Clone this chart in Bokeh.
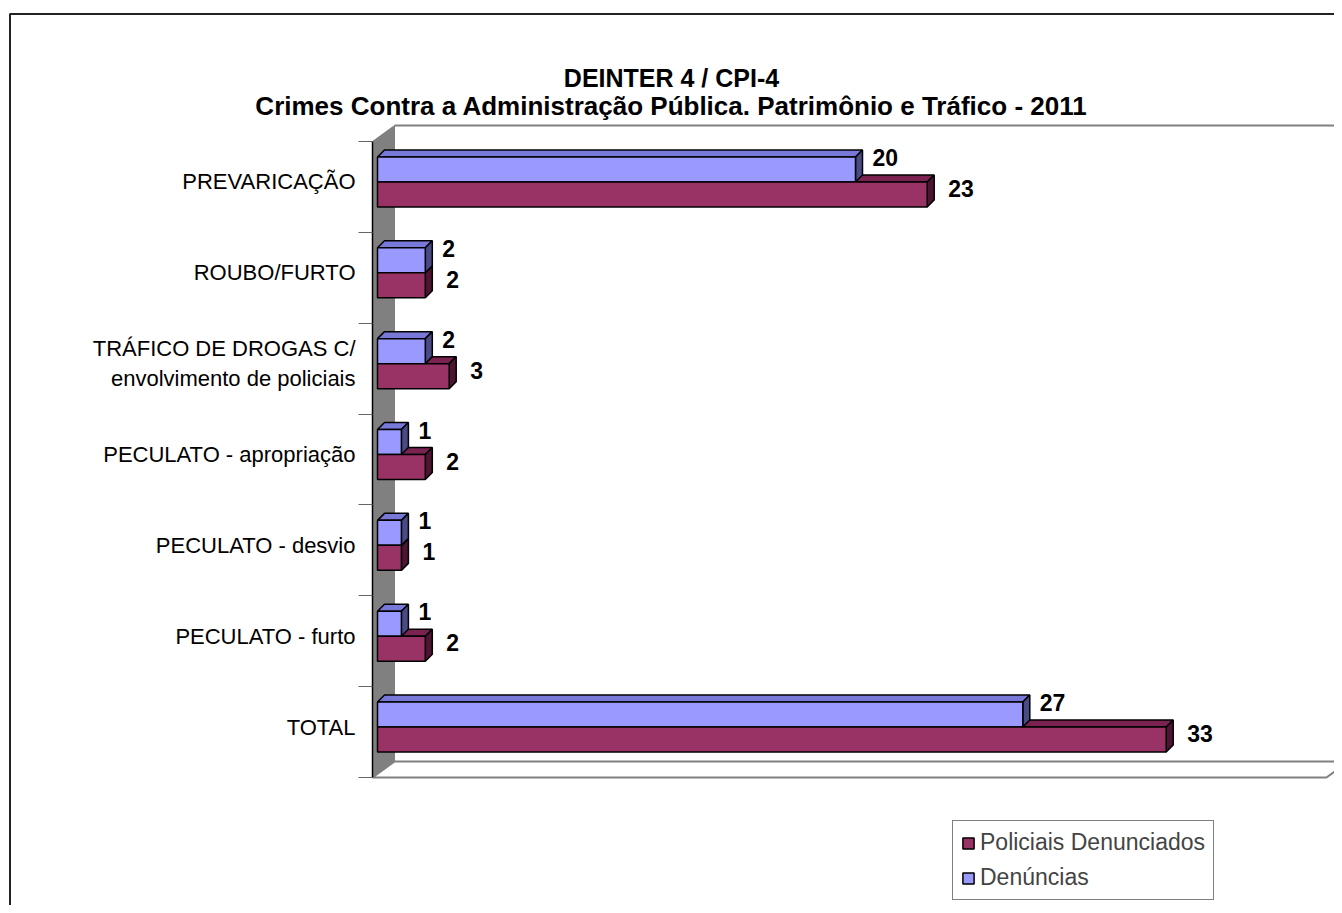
from bokeh.plotting import figure
from bokeh.models import (Range1d, LinearAxis, FixedTicker, Label, Legend,
                          LegendItem, ColumnDataSource)
from bokeh.embed import file_html
from bokeh.resources import INLINE
from bokeh.core.properties import value

# ---------------- data ----------------
categories = ["PREVARICAÇÃO", "ROUBO/FURTO",
              "TRÁFICO DE DROGAS C/\nenvolvimento de policiais",
              "PECULATO - apropriação", "PECULATO - desvio",
              "PECULATO - furto", "TOTAL"]
denuncias = [20, 2, 2, 1, 1, 1, 27]
policiais = [23, 2, 3, 2, 1, 2, 33]
series_names = ["Policiais Denunciados", "Denúncias"]
title_lines = ["DEINTER 4 / CPI-4",
               "Crimes Contra a Administração Pública. Patrimônio e Tráfico - 2011"]

# ---------------- layout (pixels, picture coordinates) ----------------
W, H = 1334, 905
ORIGIN = 0           # the canvas starts at the picture's top-left corner
X0_PX = 377.0        # x of value 0
SX = 23.9            # px per value unit
YB_PX = 777.0        # y of lowest category edge
SY = 636.0 / 7       # px per category band

def px2x(px):
    return (px - X0_PX) / SX

def py2y(py):
    return (YB_PX - py) / SY - 0.5

FONT = "Liberation Sans"
BLUE, BLUE_TOP, BLUE_SIDE = "#9999FF", "#7878D8", "#4A4A86"
RED, RED_TOP, RED_SIDE = "#993366", "#7A2350", "#4E1533"
GRAY = "#808080"

n = len(categories)
OFF = 5.0 / SY                      # 3D depth shift of bars / labels
ypos = [n - 1 - i + OFF for i in range(n)]

p = figure(width=W, height=H,
           x_range=Range1d(px2x(ORIGIN), px2x(ORIGIN + W)),
           y_range=Range1d(py2y(ORIGIN + H), py2y(ORIGIN)),
           x_axis_type=None, y_axis_type=None,
           output_backend="svg", toolbar_location=None,
           min_border=0, min_border_left=0, min_border_right=0,
           min_border_top=0, min_border_bottom=0,
           outline_line_color=None, background_fill_color="white",
           border_fill_color="white")

# outer chart border (left + top)
p.line([px2x(9.5), px2x(9.5), px2x(1342)], [py2y(913), py2y(13.5), py2y(13.5)],
       line_color="#222222", line_width=2)

# floor
p.patch([px2x(372), px2x(1326), px2x(1348), px2x(394)],
        [py2y(777), py2y(777), py2y(761), py2y(761)],
        fill_color="white", line_color=GRAY, line_width=2)
# left wall
p.patch([px2x(372), px2x(394), px2x(394), px2x(372)],
        [py2y(777), py2y(761), py2y(125), py2y(141)],
        fill_color=GRAY, line_color=GRAY, line_width=1)
# back wall top edge
p.line([px2x(394), px2x(1342)], [py2y(125), py2y(125)],
       line_color=GRAY, line_width=2)

# ---------------- 3D bars ----------------
h = 25.0 / SY
ddx = 7.0 / SX
ddy = 7.0 / SY

def faces(vals, lower):
    top_xs, top_ys, side_xs, side_ys, fl, fr, fb, ft = [], [], [], [], [], [], [], []
    for v, y in zip(vals, ypos):
        b = y - h if lower else y
        t = b + h
        top_xs.append([0, v, v + ddx, ddx])
        top_ys.append([t, t, t + ddy, t + ddy])
        side_xs.append([v, v, v + ddx, v + ddx])
        side_ys.append([b, t, t + ddy, b + ddy])
        fl.append(0); fr.append(v); fb.append(b); ft.append(t)
    return top_xs, top_ys, side_xs, side_ys, fl, fr, fb, ft

rtx, rty, rsx, rsy, rl, rr, rb, rt = faces(policiais, True)
btx, bty, bsx, bsy, bl, br, bb, bt = faces(denuncias, False)
LW = 1.5
p.patches(rtx, rty, fill_color=RED_TOP, line_color="black", line_width=LW)
p.patches(rsx, rsy, fill_color=RED_SIDE, line_color="black", line_width=LW)
p.patches(btx, bty, fill_color=BLUE_TOP, line_color="black", line_width=LW)
p.patches(bsx, bsy, fill_color=BLUE_SIDE, line_color="black", line_width=LW)
blue_r = p.quad(left=bl, right=br, bottom=bb, top=bt, fill_color=BLUE,
                line_color="black", line_width=LW)
red_r = p.quad(left=rl, right=rr, bottom=rb, top=rt, fill_color=RED,
               line_color="black", line_width=LW)

# value labels
bsrc = ColumnDataSource(dict(x=[v + ddx for v in denuncias],
                             y=[y + h / 2 for y in ypos],
                             t=[str(v) for v in denuncias]))
rsrc = ColumnDataSource(dict(x=[v + ddx for v in policiais],
                             y=[y - h / 2 for y in ypos],
                             t=[str(v) for v in policiais]))
for src, xo, yo in ((bsrc, 10, -12), (rsrc, 14, -6)):
    p.text(x="x", y="y", text="t", source=src, x_offset=xo, y_offset=yo,
           text_font=value(FONT), text_font_style="bold",
           text_font_size=value("23px"), text_color="black",
           text_align="left", text_baseline="middle")

# ---------------- category axis ----------------
yaxis = LinearAxis(fixed_location=px2x(372),
                   ticker=FixedTicker(ticks=sorted(ypos),
                                      minor_ticks=[k - 0.5 for k in range(n + 1)]),
                   bounds=(-0.5, n - 0.5))
yaxis.major_label_overrides = {ypos[i]: categories[i] for i in range(n)}
yaxis.axis_line_color = "black"
yaxis.axis_line_width = 1.5
yaxis.major_tick_line_color = None
yaxis.major_tick_out = 14
yaxis.major_tick_in = 0
yaxis.minor_tick_line_color = "#666666"
yaxis.minor_tick_out = 14
yaxis.minor_tick_in = 0
yaxis.major_label_standoff = 3
yaxis.major_label_text_font = FONT
yaxis.major_label_text_font_size = "22px"
yaxis.major_label_text_color = "black"
p.add_layout(yaxis, "left")

# ---------------- title ----------------
for txt, py, fs in zip(title_lines, (77, 105), ("25px", "26px")):
    p.add_layout(Label(x=px2x(671), y=py2y(py), text=txt, text_align="center",
                       text_baseline="middle", text_font=FONT,
                       text_font_style="bold", text_font_size=fs,
                       text_color="black"))

# ---------------- legend ----------------
legend = Legend(items=[LegendItem(label=series_names[0], renderers=[red_r]),
                       LegendItem(label=series_names[1], renderers=[blue_r])],
                location=(952, 905 - 900), orientation="vertical",
                label_text_font=FONT, label_text_font_size="23px",
                glyph_width=14, glyph_height=14, label_standoff=5,
                spacing=8, padding=8, margin=0,
                border_line_color="black", border_line_width=1,
                background_fill_color="white", background_fill_alpha=1.0)
p.add_layout(legend)

open("out.html", "w").write(file_html(p, INLINE))
